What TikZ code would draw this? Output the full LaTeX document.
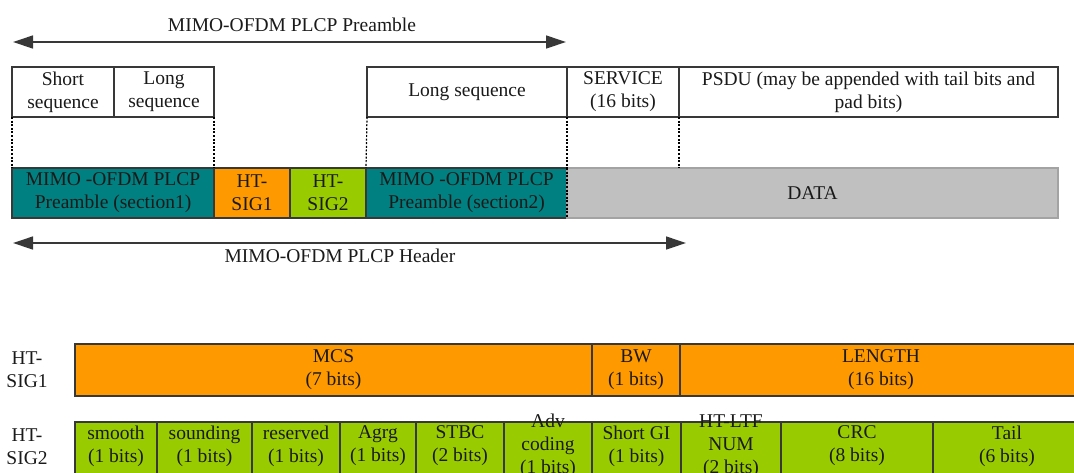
\documentclass[tikz,border=0pt]{standalone}
\usepackage{fontspec}
\setmainfont{Liberation Serif}
\usetikzlibrary{arrows.meta}

\definecolor{tealcell}{HTML}{008080}
\definecolor{sigonecell}{HTML}{FF9900}
\definecolor{sigtwocell}{HTML}{99CC00}
\definecolor{datacell}{HTML}{C0C0C0}
\definecolor{edge}{HTML}{383838}
\definecolor{ink}{HTML}{1A1A1A}

\begin{document}
\begin{tikzpicture}[x=1pt,y=-1pt,
  font=\fontsize{19.5}{23}\selectfont,
  every node/.style={text=ink, align=center, inner sep=0pt, outer sep=0pt},
  field/.style={rectangle, draw=edge, line width=1.1pt, minimum height=50pt},
  plainbox/.style={field, fill=white},
  tealbox/.style={field, fill=tealcell},
  sigonebox/.style={field, fill=sigonecell, minimum height=52pt},
  sigtwobox/.style={field, fill=sigtwocell, minimum height=52pt},
  databox/.style={field, draw=datacell!85!black, fill=datacell},
  guide/.style={draw=black, line width=1.2pt, dash pattern=on 2pt off 1.6pt},
  dimline/.style={draw=edge, line width=1.3pt,
    {Triangle[length=20pt,width=13pt]}-{Triangle[length=20pt,width=13pt]}},
  twoline/.style={label={[yshift=2pt]center:{#1}}}
]
\useasboundingbox (0,0) rectangle (1074,472);
\clip (0,0) rectangle (1074,472);

% ---- PLCP preamble span ----
\coordinate (preL) at (13,42);
\coordinate (preR) at (566,42);
\draw[dimline] (preL) -- (preR);
\node (preText) at (292,25) {MIMO-OFDM PLCP Preamble};

% ---- legacy field breakdown ----
\node[plainbox, minimum width=102pt] (short) at (63,92) {Short\\sequence};
\node[plainbox, minimum width=100pt] (longA) at (164,92) {Long\\sequence};
\node[plainbox, minimum width=200pt] (longB) at (467,92) {Long sequence};
\node[plainbox, minimum width=112pt] (service) at (623,92) {SERVICE\\(16 bits)};
\node[plainbox, minimum width=379pt] (psdu) at (868.5,92) {PSDU (may be appended with tail bits and\\pad bits)};

% ---- MIMO-OFDM frame ----
\node[tealbox, minimum width=202pt] (pre1) at (113,193) {MIMO -OFDM PLCP\\Preamble (section1)};
\node[sigonebox, minimum height=50pt, minimum width=76pt] (sig1) at (252,193) {HT-\\SIG1};
\node[sigtwobox, minimum height=50pt, minimum width=76pt] (sig2) at (328,193) {HT-\\SIG2};
\node[tealbox, minimum width=201pt] (pre2) at (466.5,193) {MIMO -OFDM PLCP\\Preamble (section2)};
\node[databox, minimum width=491pt] (data) at (812.5,193) {DATA};

% ---- dotted guides between the two rows ----
\draw[guide] (short.south west) -- (pre1.north west);
\draw[guide] (longA.south east) -- (pre1.north east);
\draw[guide] (longB.south west) -- (pre2.north west);
\draw[guide] (longB.south east) -- (data.north west);
\draw[guide] (data.north west) -- (data.south west);
\draw[guide] (psdu.south west) -- (psdu.south west |- data.north);

% ---- PLCP header span ----
\coordinate (hdrL) at (13,243);
\coordinate (hdrR) at (686,243);
\draw[dimline] (hdrL) -- (hdrR);
\node (hdrText) at (340,256) {MIMO-OFDM PLCP Header};

% ---- HT-SIG1 fields ----
\node (sigOneName) at (27,370) {HT-\\SIG1};
\node[sigonebox, minimum width=517pt] (mcs) at (333.5,370) {MCS\\(7 bits)};
\node[sigonebox, minimum width=88pt] (bw) at (636,370) {BW\\(1 bits)};
\node[sigonebox, minimum width=402pt] (length) at (881,370) {LENGTH\\(16 bits)};

% ---- HT-SIG2 fields ----
\node (sigTwoName) at (27,447) {HT-\\SIG2};
\node[sigtwobox, minimum width=82pt, twoline={smooth\\(1 bits)}] (smooth) at (116,448) {};
\node[sigtwobox, minimum width=95pt, twoline={sounding\\(1 bits)}] (sounding) at (204.5,448) {};
\node[sigtwobox, minimum width=88pt, twoline={reserved\\(1 bits)}] (reserved) at (296,448) {};
\node[sigtwobox, minimum width=76pt, twoline={Agrg\\(1 bits)}] (agrg) at (378,448) {};
\node[sigtwobox, minimum width=88pt, twoline={STBC\\(2 bits)}] (stbc) at (460,448) {};
\node[sigtwobox, minimum width=88pt, twoline={Adv\\coding\\(1 bits)}] (adv) at (548,448) {};
\node[sigtwobox, minimum width=89pt, twoline={Short GI\\(1 bits)}] (shortgi) at (636.5,448) {};
\node[sigtwobox, minimum width=100pt, twoline={HT-LTF\\NUM\\(2 bits)}] (htltf) at (731,448) {};
\node[sigtwobox, minimum width=152pt, twoline={CRC\\(8 bits)}] (crc) at (857,448) {};
\node[sigtwobox, minimum width=148pt, twoline={Tail\\(6 bits)}] (tail) at (1007,448) {};
\end{tikzpicture}
\end{document}
